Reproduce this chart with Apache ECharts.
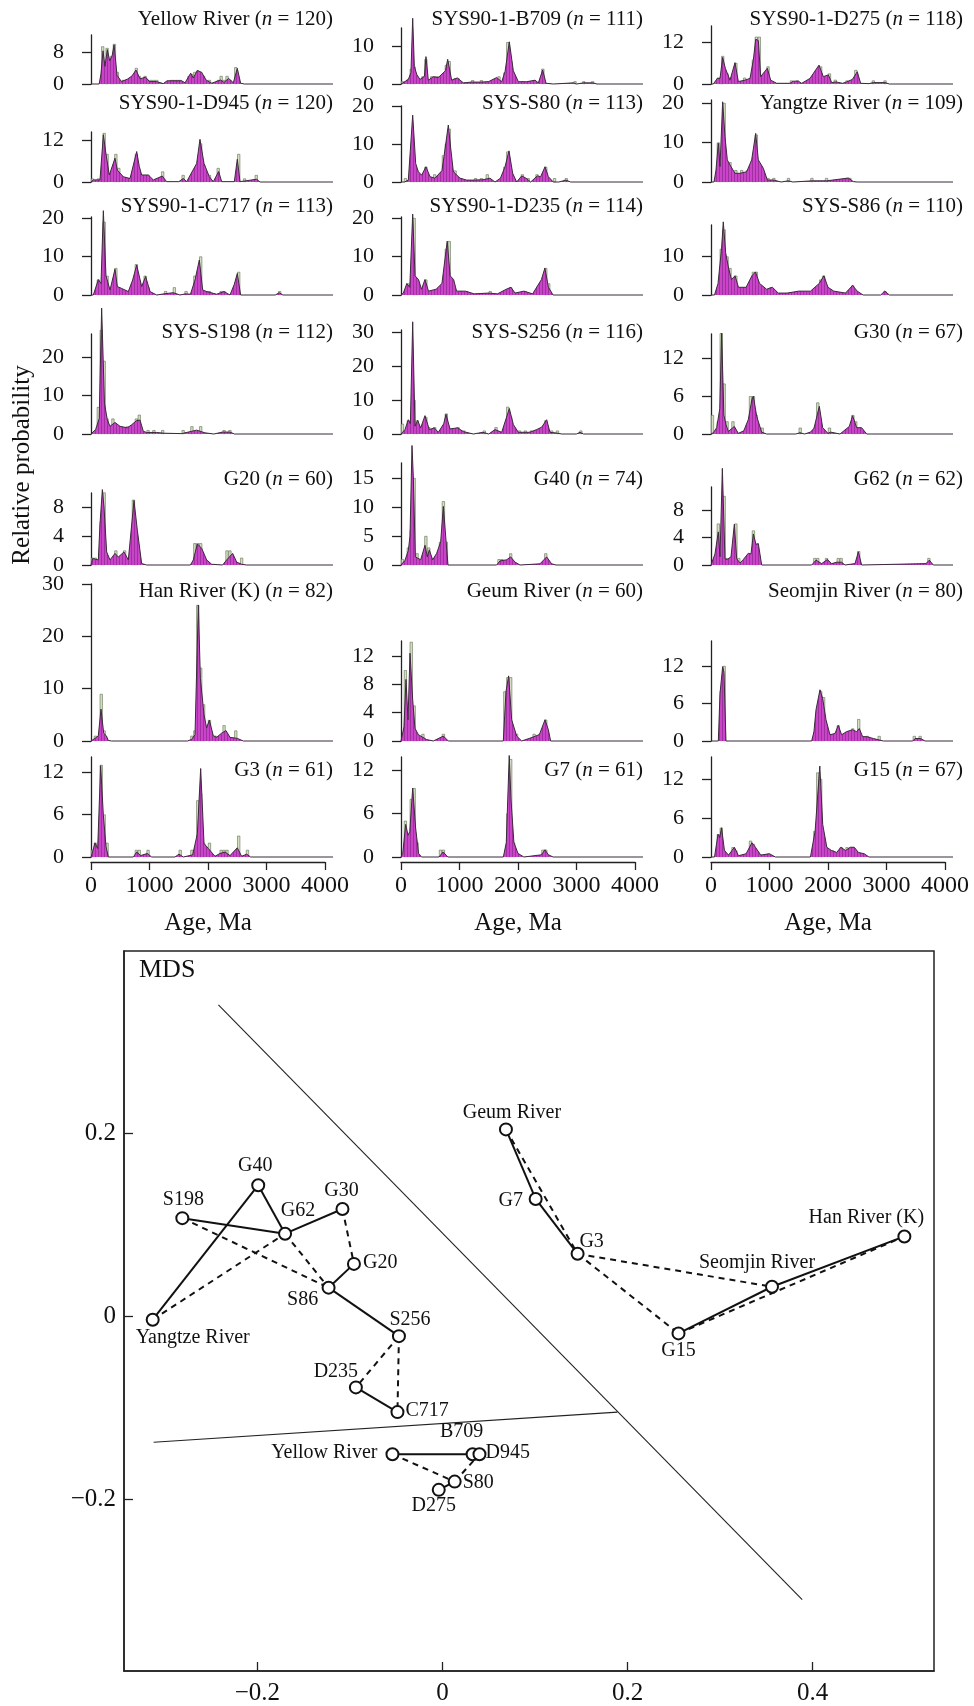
<!DOCTYPE html>
<html><head><meta charset="utf-8">
<script src="https://cdn.jsdelivr.net/npm/echarts@6/dist/echarts.min.js"></script>
<style>html,body{margin:0;padding:0;background:#fff}#c{width:974px;height:1706px}</style>
</head><body><div id="c"></div>
<script>
// ---------------- DATA ----------------
const panelNames = ['Yellow River','SYS90-1-B709','SYS90-1-D275','SYS90-1-D945','SYS-S80','Yangtze River','SYS90-1-C717','SYS90-1-D235','SYS-S86','SYS-S198','SYS-S256','G30','G20','G40','G62','Han River (K)','Geum River','Seomjin River','G3','G7','G15'];
const panelN = [120,111,118,120,113,109,113,114,110,112,116,67,60,74,62,82,60,80,61,61,67];
const yTicks = [[0,8],[0,10],[0,6,12],[0,6,12],[0,10,20],[0,10,20],[0,10,20],[0,10,20],[0,10],[0,10,20],[0,10,20,30],[0,6,12],[0,4,8],[0,5,10,15],[0,4,8],[0,10,20,30],[0,4,8,12],[0,6,12],[0,6,12],[0,6,12],[0,6,12]];
const ageTicks = [0,1000,2000,3000,4000];

// KDE curves [age Ma, relative probability]
const kdeYR = [[0,0],[140,0],[170,2.5],[205,8.3],[239,4.4],[279,8.6],[320,5.8],[360,7],[395,9.8],[445,2.2],[520,0.6],[620,1.2],[700,2],[769,3.5],[838,1.3],[934,1.7],[1000,0.6],[1120,0.6],[1236,0.1],[1300,0.8],[1550,0.8],[1607,0.3],[1704,2.7],[1749,1.5],[1818,3.4],[1892,2.9],[1966,1],[2063,0.2],[2216,1],[2273,0.4],[2353,1.4],[2433,0.3],[2501,3.9],[2558,0.2],[2620,0],[4137,0]];
const kdeB709 = [[0,0],[20,0.3],[125,1.2],[170,3],[200,17.3],[228,4.6],[270,2.5],[325,1.2],[400,2],[427,7.2],[467,1],[553,1.9],[638,1.7],[760,3.5],[798,6.5],[866,1],[963,1.6],[1066,0.3],[1200,0.5],[1350,0.5],[1493,0.6],[1635,1.7],[1721,0.6],[1778,3.2],[1852,11.1],[1920,3.5],[2006,0.6],[2148,0.6],[2291,1],[2348,0.3],[2422,3.7],[2479,0.2],[2604,0],[2950,0.3],[3000,0],[3120,0.3],[3280,0.3],[3350,0],[4137,0]];
const kdeD275 = [[0,0],[40,0],[108,1.6],[154,1.6],[199,7.6],[245,4.5],[279,4],[325,1.1],[410,6.1],[467,0.7],[581,1.1],[667,1.6],[724,6.9],[764,12.8],[809,12.4],[849,2.1],[963,4.5],[1020,1.1],[1123,0.2],[1350,0.2],[1407,0.8],[1493,0.8],[1550,0.2],[1692,1.6],[1846,5.4],[1920,2.1],[2006,2.6],[2063,0.4],[2137,0.6],[2250,0.2],[2319,0.6],[2416,1.3],[2501,3.5],[2558,0.2],[2700,0.1],[2775,0.4],[2974,0.4],[3050,0],[4137,0]];
const kdeD945 = [[0,0],[40,0.6],[154,0.6],[211,13.5],[256,8],[313,2],[410,6.8],[450,3.4],[553,1.5],[667,1],[781,8.7],[826,4.4],[866,2],[980,2],[1066,0.6],[1219,1.7],[1293,0.1],[1500,0.1],[1578,1],[1635,0.1],[1806,5.3],[1863,12.2],[1932,5.3],[2023,1.5],[2091,0.1],[2182,3],[2234,0.1],[2450,0.1],[2501,6.5],[2547,0.1],[2633,0.3],[2832,0.8],[2889,0],[4137,0]];
const kdeS80 = [[0,0],[60,0],[85,0.5],[125,0.5],[200,17.6],[251,4.9],[296,2.7],[353,1.8],[427,4],[496,1.4],[581,1],[700,3],[735,6.7],[809,15],[849,9],[895,2.7],[1009,1],[1123,0.5],[1250,0.5],[1400,0.6],[1521,1],[1607,0],[1700,1],[1778,4],[1846,8.2],[1909,2.3],[1977,0],[2063,1.6],[2137,1],[2216,0],[2330,1.6],[2387,1.4],[2462,4],[2519,1.4],[2604,0],[2700,0],[2820,0.5],[2900,0],[4137,0]];
const kdeYangtze = [[0,0],[51,0],[85,3],[125,9.8],[154,3.9],[199,20.3],[239,11.5],[279,5.6],[325,4.3],[410,2.2],[496,2.2],[610,2.6],[695,5.6],[764,12.3],[809,5.6],[894,3.5],[963,0.5],[1066,0.5],[1200,0],[1322,0.3],[1400,0],[1732,0.3],[1977,0.3],[2348,1],[2433,0.1],[2500,0],[4137,0]];
const kdeC717 = [[0,0],[40,0],[125,4],[171,3],[211,21.9],[256,5],[325,1.3],[410,6.7],[450,2.2],[524,1.7],[638,0.9],[712,3.9],[781,7.8],[866,2.2],[934,4.8],[1009,0.9],[1123,0],[1250,0.3],[1407,0.6],[1521,0],[1612,0.3],[1700,0.2],[1778,3.9],[1852,9.1],[1909,1.3],[1977,0.9],[2148,0.2],[2273,0.9],[2376,0],[2450,2.8],[2501,5.6],[2558,0],[3150,0],[3219,0.6],[3280,0],[4137,0]];
const kdeD235 = [[0,0],[40,0.5],[100,3],[150,2],[200,21],[240,5],[300,4],[350,1.5],[410,4],[470,1],[600,1.5],[700,3],[790,14],[840,5],[900,4],[950,1],[1100,1],[1250,0.3],[1500,0.5],[1650,0.3],[1800,1.5],[1880,2],[1950,0.5],[2100,1],[2250,0.3],[2400,4],[2460,7],[2520,2],[2600,0],[4137,0]];
const kdeS86 = [[0,0],[60,0],[120,3],[180,12],[210,19],[250,11],[300,7],[350,4],[410,5],[470,2],[600,2],[700,5],[760,6],[830,3],[950,1.5],[1050,2],[1150,0.5],[1300,0.5],[1500,1],[1700,1],[1850,3],[1930,5],[2000,2],[2100,1],[2300,0.5],[2420,2.5],[2500,1],[2600,0],[2900,0],[2970,1],[3050,0],[4137,0]];
const kdeS198 = [[0,0],[11,0.3],[80,1.2],[140,4],[182,32.7],[230,8],[279,3.7],[325,2],[410,3],[496,2],[621,1.6],[695,2.4],[781,3.5],[838,3.6],[894,0.7],[950,0.4],[1122,0.4],[1250,0.2],[1550,0.1],[1721,0.7],[1806,1],[1949,0.3],[2100,0],[2250,0.5],[2376,0.5],[2450,0],[4137,0]];
const kdeS256 = [[0,0],[68,1.3],[125,4.2],[160,3],[200,33],[239,2.3],[285,4],[336,1.8],[410,5.4],[484,1.3],[570,1.8],[638,0.5],[730,3],[769,5.8],[838,1.5],[969,1.8],[1066,0.7],[1236,0],[1400,0.5],[1500,0],[1607,1.3],[1721,0.5],[1852,7.5],[1920,2.8],[2006,0.5],[2200,0.5],[2319,1.3],[2404,2],[2490,4.2],[2547,0.5],[2650,0.3],[2750,0],[3000,0],[3060,0.5],[3120,0],[4137,0]];
const kdeG30 = [[0,0],[40,0.2],[97,1],[150,4],[182,16],[220,3],[256,1.5],[296,0.4],[399,1.2],[467,0.1],[560,0.5],[638,2.3],[700,5.5],[724,6],[781,2.8],[866,0.3],[950,0],[1450,0],[1521,0.2],[1600,0],[1700,0.3],[1760,0.9],[1852,4.4],[1909,1],[2000,0.1],[2045,0.3],[2205,0],[2364,1.2],[2421,2.9],[2490,1],[2575,1],[2661,0],[4137,0]];
const kdeG20 = [[0,0],[28,0.9],[125,0.7],[154,5.7],[194,10.4],[222,8],[268,1.8],[325,0.7],[410,1.6],[467,1.1],[564,1.8],[638,0.7],[735,8.9],[792,4.8],[866,0.2],[951,0],[1700,0],[1749,0.7],[1818,2.9],[1892,2.3],[1977,0.7],[2063,0.1],[2250,0],[2319,0.7],[2422,1.6],[2490,0.4],[2575,0.1],[2661,0],[4137,0]];
const kdeG40 = [[0,0],[68,0.8],[125,2.5],[154,5],[188,20.6],[211,15],[245,1.4],[279,1.7],[336,0.9],[410,3.4],[450,1.4],[484,2.6],[541,0.9],[609,2],[678,4],[724,10.1],[769,4.3],[803,0],[1635,0],[1692,0.7],[1806,0.9],[1875,1.4],[1949,0.5],[2034,0],[2376,0.2],[2490,1.4],[2575,0.2],[2650,0],[4137,0]];
const kdeG62 = [[0,0],[11,0],[68,1.6],[125,4.8],[154,1.2],[194,14],[239,0.9],[279,0.8],[342,1.2],[399,5.9],[439,0.9],[496,0.3],[553,0.8],[638,1.7],[684,1.6],[724,4.5],[769,3],[809,3.1],[866,0],[1721,0],[1795,0.7],[1892,0.2],[1989,0.8],[2063,0.2],[2148,0.4],[2233,0.4],[2291,0],[2462,0.2],[2519,1.9],[2575,0],[3675,0.2],[3732,0.7],[3800,0],[4137,0]];
const kdeHan = [[0,0],[68,0.5],[125,1],[171,6.1],[217,1.5],[262,1],[296,0.1],[350,0],[1650,0],[1720,0.3],[1778,1.2],[1835,26],[1870,12],[1932,5],[1977,2.5],[2023,4],[2091,1],[2148,0.7],[2233,1.5],[2307,2],[2376,0.7],[2501,0.5],[2604,0],[4137,0]];
const kdeGeum = [[0,0],[11,0],[51,2],[85,8.7],[120,3],[154,12.4],[200,5.8],[239,1.8],[296,0.9],[439,0.2],[553,0],[724,0.7],[809,0],[1749,0],[1795,7],[1840,9.2],[1892,3],[1977,0.7],[2063,0],[2205,0.4],[2365,0.9],[2462,3],[2519,1.6],[2558,0],[4137,0]];
const kdeSeomjin = [[0,0],[125,0],[154,7.6],[199,11.9],[222,11],[256,0],[1721,0],[1760,1.5],[1795,5],[1863,8.2],[1909,6.8],[1966,3.4],[2034,1],[2120,1.2],[2176,2.5],[2233,1],[2319,1.5],[2416,1.8],[2490,1.5],[2535,2],[2592,0.7],[2661,0.7],[2775,0.4],[2946,0],[3450,0],[3487,0.4],[3584,0.4],[3658,0],[4137,0]];
const kdeG3 = [[0,0],[20,0.5],[68,2],[114,1.2],[165,12.9],[211,5.9],[256,1.5],[296,0],[724,0],[781,0.7],[849,0.2],[963,0.5],[1037,0],[1436,0],[1504,0.4],[1578,0],[1738,0.3],[1818,3.3],[1875,12.5],[1932,1.9],[2006,1.2],[2120,0.1],[2205,0.5],[2291,0.7],[2376,0.2],[2501,1.3],[2575,0.1],[2661,0.4],[2729,0],[4137,0]];
const kdeG7 = [[0,0],[30,0.5],[80,4.5],[120,3],[150,3.5],[200,9.5],[250,4],[300,0.5],[350,0],[650,0],[720,0.7],[800,0],[1750,0],[1800,2],[1850,14],[1880,8],[1930,2],[2000,0.5],[2100,0],[2400,0.3],[2460,1],[2520,0.3],[2600,0],[4137,0]];
const kdeG15 = [[0,0],[60,0],[120,3.5],[150,3],[180,4.5],[230,1],[300,0.3],[400,1.5],[470,0.2],[600,0.5],[700,2.2],[760,1.5],[850,0.3],[1000,0.5],[1100,0],[1700,0],[1780,4],[1860,14],[1910,5],[1980,1.5],[2060,1],[2150,0.7],[2220,1.5],[2300,1],[2380,1.5],[2450,1.5],[2520,0.7],[2620,0.5],[2700,0],[4137,0]];

// Histogram bins [bin centre Ma, height]
const histYR = [[200,9.4],[250,5],[275,9],[350,7],[400,10],[450,3],[550,1],[775,4],[825,2],[925,2],[975,1],[1025,1],[1075,1],[1125,1],[1375,1],[1425,1],[1475,1],[1525,1],[1675,2],[1725,2.5],[1775,3],[1825,3.3],[1875,3],[1925,2],[2025,1],[2175,1],[2225,2],[2275,1],[2325,2],[2375,1],[2475,4.2]];
const histB709 = [[25,0.7],[125,1.3],[175,4],[225,4.6],[375,2],[425,6.5],[525,2],[575,2],[625,2],[775,5],[825,6],[925,1.5],[975,1.5],[1225,1],[1375,1],[1475,0.7],[1575,0.7],[1675,2],[1775,3],[1825,11],[1875,6],[2075,0.7],[2175,0.7],[2275,1],[2425,4],[2975,0.7],[3125,0.7],[3275,0.7]];
const histD275 = [[125,1.8],[175,2],[200,8],[275,3],[425,6],[575,1.8],[725,7],[775,13.5],[825,13.5],[875,2.5],[975,5],[1375,1],[1475,1],[1875,5],[2025,3],[2125,1.2],[2325,1],[2425,1.2],[2475,4],[2775,1],[2975,1]];
const histD945 = [[25,1],[125,1],[225,14],[275,8],[425,8],[475,4],[775,8],[875,2],[975,2],[1225,3],[1575,2],[1825,5],[1875,11],[1925,5],[2025,2],[2175,4],[2525,8],[2625,1],[2825,2]];
const histS80 = [[75,1],[175,5],[225,3],[275,3],[325,2],[425,4],[575,2],[725,7],[775,10],[825,14],[875,3],[925,3],[1025,1],[1275,1],[1375,1],[1475,2],[1775,4],[1825,8],[2075,2],[2175,1],[2325,2],[2475,4],[2625,1],[2825,1]];
const histYangtze = [[125,10],[175,4],[225,20],[275,5],[325,5],[425,3],[475,2],[525,3],[625,3],[725,5],[775,12],[875,3],[975,1],[1075,1],[1325,1],[1725,1],[1975,1],[2325,1],[2375,1]];
const histC717 = [[125,4],[175,3],[225,19],[275,5],[425,7],[475,2],[775,8],[925,5],[975,2],[1275,1],[1425,2],[1625,1],[1775,5],[1875,10],[1925,1],[1975,1],[2025,1],[2225,1],[2275,1],[2475,3],[2525,6],[3225,1]];
const histD235 = [[125,3],[225,20],[275,4],[425,4],[775,12],[825,14],[875,4],[1025,1],[1125,1],[1525,1],[1875,2],[2125,1],[2475,7],[2525,3]];
const histS86 = [[175,12],[225,17],[275,10],[325,7],[425,5],[725,6],[775,6],[1025,2],[1525,1],[1875,4],[1925,5],[2425,2.5],[2975,1]];
const histS198 = [[125,7],[175,27],[225,19],[275,4],[325,2],[375,4],[475,2],[625,2],[725,2],[775,4],[825,5],[975,1],[1075,1],[1225,1],[1575,1],[1725,2],[1875,2],[2275,1],[2375,1]];
const histS256 = [[25,3],[125,4],[225,10],[275,4],[425,5],[475,2],[575,2],[775,6],[975,2],[1025,1],[1075,1],[1425,1],[1625,2],[1825,8],[1875,5],[2025,1],[2125,1],[2225,1],[2475,4],[2575,1],[2675,1],[3075,1]];
const histG30 = [[25,3],[125,2],[175,16],[225,8],[275,2],[375,2],[675,6],[725,6],[775,3],[875,1],[1525,1],[1775,1],[1825,5],[2025,1],[2425,3],[2475,2],[2525,1]];
const histG20 = [[25,1],[75,1],[175,6],[225,10],[425,2],[575,2],[725,9],[775,4],[1775,3],[1825,3],[1875,3],[2325,2],[2375,2],[2575,1]];
const histG40 = [[25,1],[125,3],[175,6],[225,15],[275,2],[425,5],[475,3],[675,4],[725,11],[775,4],[1675,1],[1725,1],[1875,2],[2475,2]];
const histG62 = [[125,6],[225,10],[275,1],[425,6],[475,1],[725,5],[775,3],[1775,1],[1825,1],[1975,1],[2175,1],[2225,1],[2525,2],[3725,1]];
const histHan = [[75,1],[175,9],[225,2],[1725,1],[1775,2],[1825,26],[1875,14],[1925,7],[2025,4],[2125,1],[2275,3],[2475,2]];
const histGeum = [[75,10],[125,3],[175,14],[225,5],[275,1],[375,1],[725,1],[1775,7],[1825,9],[1875,9],[1975,1],[2275,1],[2375,1],[2425,1],[2475,3]];
const histSeomjin = [[175,8],[225,12],[1775,1.5],[1825,5],[1875,8],[1925,7],[2025,1],[2175,2.5],[2325,1.5],[2425,2],[2525,3.5],[2675,0.8],[2875,0.8],[3475,0.8],[3575,0.8]];
const histG3 = [[25,1],[75,2],[175,13],[225,6],[275,2],[775,1],[825,1],[975,1],[1525,1],[1725,1],[1825,8],[1875,9],[1925,2],[2025,2],[2225,1],[2275,1],[2325,1],[2525,3],[2675,1]];
const histG7 = [[75,5],[125,3],[175,8],[225,9.5],[275,2],[675,1],[725,1],[1825,6],[1875,13.5],[1925,2],[2425,1],[2475,1]];
const histG15 = [[125,3.5],[175,4.5],[225,1],[375,1.5],[425,1],[675,2.5],[725,2],[975,0.5],[1775,4],[1825,13],[1875,12],[2075,1],[2225,1.5],[2325,1.5],[2425,1.5],[2475,1]];

const kdeAll = [kdeYR,kdeB709,kdeD275,kdeD945,kdeS80,kdeYangtze,kdeC717,kdeD235,kdeS86,kdeS198,kdeS256,kdeG30,kdeG20,kdeG40,kdeG62,kdeHan,kdeGeum,kdeSeomjin,kdeG3,kdeG7,kdeG15];
const histAll = [histYR,histB709,histD275,histD945,histS80,histYangtze,histC717,histD235,histS86,histS198,histS256,histG30,histG20,histG40,histG62,histHan,histGeum,histSeomjin,histG3,histG7,histG15];

// MDS configuration
const mdsNames = ['Yangtze River','S198','G40','G62','G30','G20','S86','S256','D235','C717','Geum River','G7','G3','Seomjin River','Han River (K)','G15','Yellow River','B709','D945','S80','D275'];
const mdsX = [-0.313,-0.281,-0.199,-0.170,-0.108,-0.0956,-0.123,-0.047,-0.0935,-0.0486,0.0686,0.1007,0.146,0.356,0.499,0.255,-0.054,0.0326,0.040,0.0132,-0.004];
const mdsY = [-0.004,0.107,0.143,0.090,0.117,0.057,0.031,-0.022,-0.078,-0.105,0.204,0.128,0.068,0.032,0.087,-0.019,-0.151,-0.151,-0.151,-0.181,-0.190];
const solidLinks = [['Yangtze River','G40'],['G40','G62'],['S198','G62'],['G62','G30'],['G20','S86'],['S86','S256'],['D235','C717'],['Geum River','G7'],['G7','G3'],['G15','Seomjin River'],['Seomjin River','Han River (K)'],['Yellow River','B709'],['B709','D945'],['S80','D275']];
const dashedLinks = [['Yangtze River','G62'],['S198','S86'],['G62','S86'],['G30','G20'],['S256','D235'],['S256','C717'],['Geum River','G3'],['G3','Seomjin River'],['G3','G15'],['G15','Han River (K)'],['Yellow River','S80'],['S80','D945']];
const divider1 = [[-0.242,0.340],[0.3886,-0.310]];
const divider2 = [[-0.312,-0.138],[0.189,-0.105]];
const mdsXTicks = [-0.2,0,0.2,0.4];
const mdsYTicks = [-0.2,0,0.2];

// ---------------- LAYOUT / STYLE ----------------
const SERIF = '"Liberation Serif","DejaVu Serif","Times New Roman",serif';
const colAxisX = [81,391,701];
const colTitleRight = [333,643,963];
const rowBaseline = [84,182,295,434,565,741,857];
const rowTitleY = [21,105,208,334,481,593,772];
const axisTopPx = [35,28,26, 132,106,100, 217,217,225, 334,330,334, 493,463,487, 584,641,641, 757,757,757];
const pxPerUnit = [4,3.8,3.5, 3.5,3.8,3.95, 3.85,3.85,3.85, 3.85,3.4,6.3, 7.25,5.8,6.9, 5.23,7.08,6.25, 7.08,7.25,6.5];
const mdsLabelPos = {
 'Yangtze River':[41,19,'center'],'S198':[2,-17,'center'],'G40':[-2,-18,'center'],'G62':[14,-22,'center'],
 'G30':[0,-17,'center'],'G20':[10,0,'left'],'S86':[-25,13,'center'],'S256':[12,-15,'center'],
 'D235':[-19,-15,'center'],'C717':[9,0,'left'],'Geum River':[7,-16,'center'],'G7':[-24,3,'center'],
 'G3':[15,-11,'center'],'Seomjin River':[-14,-23,'center'],'Han River (K)':[-37,-18,'center'],'G15':[1,18,'center'],
 'Yellow River':[-14,0,'right'],'B709':[-10,-21,'center'],'D945':[7,0,'left'],'S80':[9,2,'left'],'D275':[-4,17,'center']
};

function magentaPattern(){
  const cv = document.createElement('canvas'); cv.width = 3; cv.height = 4;
  const g = cv.getContext('2d');
  g.fillStyle = '#c944c9'; g.fillRect(0,0,3,4);
  g.fillStyle = '#a0309f'; g.fillRect(2,0,1,4);
  return cv;
}
const pat = magentaPattern();
const numFmt = v => (v<0 ? '\u2212' : '') + String(Math.abs(v));

const grids=[], xAxes=[], yAxes=[], series=[], titles=[];
for (let i=0;i<21;i++){
  const r=Math.floor(i/3), c=i%3;
  const base=rowBaseline[r], top=axisTopPx[i];
  grids.push({left:colAxisX[c], top:top, width:252, height:base-top});
  xAxes.push({gridIndex:i, type:'value', min:-171, max:4137, show:false});
  yAxes.push({gridIndex:i, type:'value', min:0, max:(base-top)/pxPerUnit[i],
    axisLine:{show:true, lineStyle:{color:'#222', width:1.3}},
    axisTick:{show:true, length:9, interval:0, customValues:yTicks[i], lineStyle:{color:'#222', width:1.3}},
    axisLabel:{customValues:yTicks[i], interval:0, hideOverlap:false, showMinLabel:true, showMaxLabel:true,
      margin:17, fontSize:22, fontFamily:SERIF, color:'#111', formatter:numFmt},
    splitLine:{show:false}});
  series.push({type:'bar', xAxisIndex:i, yAxisIndex:i, data:histAll[i], barWidth:3, clip:false, z:2,
    itemStyle:{color:'#d4e1c0', borderColor:'#5f6d52', borderWidth:0.6}});
  series.push({type:'line', xAxisIndex:i, yAxisIndex:i, data:kdeAll[i], symbol:'none', clip:false, z:3,
    lineStyle:{color:'#3b2a3b', width:1},
    areaStyle:{color:{image:pat, repeat:'repeat'}, opacity:1}});
  titles.push({text: panelNames[i]+' ({i|n} = '+panelN[i]+')', right: 974-colTitleRight[c], top: rowTitleY[r]-12, padding:0,
    textStyle:{fontFamily:SERIF, fontSize:21, fontWeight:'normal', color:'#111',
      rich:{i:{fontStyle:'italic', fontFamily:SERIF, fontSize:21, color:'#111'}}}});
}
// bottom age axes
for (let c=0;c<3;c++){
  const gi = grids.length;
  grids.push({left:colAxisX[c]+10, top:861, width:234, height:1});
  xAxes.push({gridIndex:gi, type:'value', min:0, max:4000, position:'bottom',
    axisLine:{show:true, onZero:false, lineStyle:{color:'#222', width:1.3}},
    axisTick:{show:true, length:8, interval:0, customValues:ageTicks, lineStyle:{color:'#222', width:1.3}},
    axisLabel:{customValues:ageTicks, interval:0, hideOverlap:false, fontSize:24, fontFamily:SERIF, color:'#111', margin:12, formatter:numFmt},
    splitLine:{show:false}});
  yAxes.push({gridIndex:gi, type:'value', show:false});
}
// MDS grid
const mg = grids.length;
grids.push({left:124, top:951, width:810, height:720, show:true, borderColor:'#222', borderWidth:1.5, backgroundColor:'transparent'});
xAxes.push({gridIndex:mg, type:'value', min:-0.344, max:0.531,
  axisLine:{show:true, onZero:false, lineStyle:{color:'#222', width:1.5}},
  axisTick:{show:true, inside:true, length:9, interval:0, customValues:mdsXTicks, lineStyle:{color:'#222', width:1.3}},
  axisLabel:{customValues:mdsXTicks, interval:0, hideOverlap:false, fontSize:25, fontFamily:SERIF, color:'#111', margin:10, formatter:numFmt},
  splitLine:{show:false}});
yAxes.push({gridIndex:mg, type:'value', min:-0.388, max:0.399,
  axisLine:{show:true, onZero:false, lineStyle:{color:'#222', width:1.5}},
  axisTick:{show:true, inside:true, length:9, interval:0, customValues:mdsYTicks, lineStyle:{color:'#222', width:1.3}},
  axisLabel:{customValues:mdsYTicks, interval:0, hideOverlap:false, fontSize:25, fontFamily:SERIF, color:'#111', margin:8, formatter:numFmt},
  splitLine:{show:false}});

const pt = name => { const k = mdsNames.indexOf(name); return [mdsX[k], mdsY[k]]; };
[divider1, divider2].forEach(d => series.push({type:'line', xAxisIndex:mg, yAxisIndex:mg, data:d, symbol:'none', z:2,
  lineStyle:{color:'#222', width:1.1}}));
solidLinks.forEach(l => series.push({type:'line', xAxisIndex:mg, yAxisIndex:mg, data:[pt(l[0]), pt(l[1])], symbol:'none', z:3,
  lineStyle:{color:'#111', width:2}}));
dashedLinks.forEach(l => series.push({type:'line', xAxisIndex:mg, yAxisIndex:mg, data:[pt(l[0]), pt(l[1])], symbol:'none', z:3,
  lineStyle:{color:'#111', width:2, type:[6,5]}}));
series.push({type:'scatter', xAxisIndex:mg, yAxisIndex:mg, symbol:'circle', symbolSize:12, z:5,
  itemStyle:{color:'#fff', borderColor:'#111', borderWidth:2, opacity:1},
  data: mdsNames.map((n,k)=>{ const p = mdsLabelPos[n];
    return {name:n, value:[mdsX[k], mdsY[k]],
      label:{show:true, formatter:n, position:[6+p[0], 6+p[1]], align:p[2], verticalAlign:'middle',
        fontFamily:SERIF, fontSize:20, color:'#111', textBorderWidth:0}}; })
});

const option = {
  animation:false,
  backgroundColor:'#fff',
  title: titles,
  grid: grids, xAxis: xAxes, yAxis: yAxes, series: series,
  graphic: [
    {type:'text', x:22, y:465, rotation:Math.PI/2, style:{text:'Relative probability', font:'25px '+SERIF, fill:'#111', align:'center', verticalAlign:'middle', textAlign:'center', textVerticalAlign:'middle'}},
    {type:'text', x:208, y:923, style:{text:'Age, Ma', font:'25px '+SERIF, fill:'#111', align:'center', verticalAlign:'middle', textAlign:'center', textVerticalAlign:'middle'}},
    {type:'text', x:518, y:923, style:{text:'Age, Ma', font:'25px '+SERIF, fill:'#111', align:'center', verticalAlign:'middle', textAlign:'center', textVerticalAlign:'middle'}},
    {type:'text', x:828, y:923, style:{text:'Age, Ma', font:'25px '+SERIF, fill:'#111', align:'center', verticalAlign:'middle', textAlign:'center', textVerticalAlign:'middle'}},
    {type:'text', x:139, y:970, style:{text:'MDS', font:'26px '+SERIF, fill:'#111', align:'left', verticalAlign:'middle', textAlign:'left', textVerticalAlign:'middle'}}
  ]
};
const chart = echarts.init(document.getElementById('c'), null, {renderer:'canvas', width:974, height:1706});
chart.setOption(option);
</script></body></html>
